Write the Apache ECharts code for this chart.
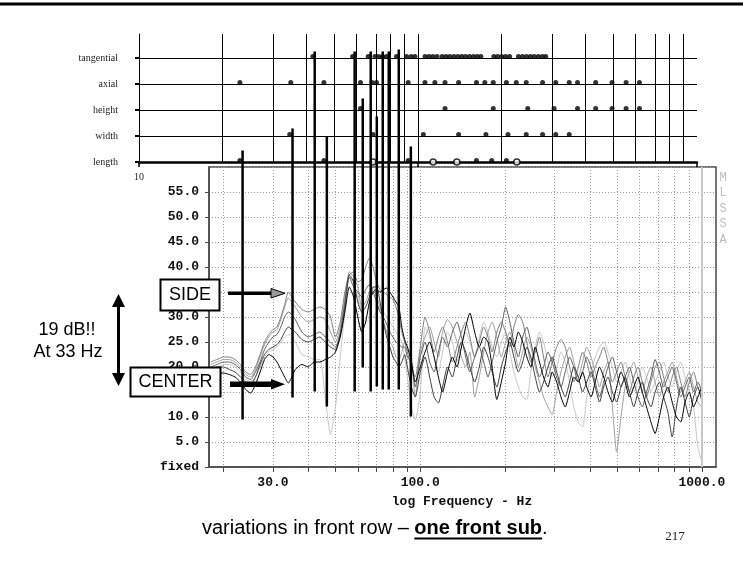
<!DOCTYPE html>
<html>
<head>
<meta charset="utf-8">
<script src="https://cdn.jsdelivr.net/npm/echarts/dist/echarts.min.js"></script>
<style>
  html, body { margin: 0; padding: 0; background: #fff; }
  #chart { width: 743px; height: 564px; }
</style>
</head>
<body>
<div id="chart"></div>
<script>
// frequency points (Hz) shared by all measured curves
const freqs = [18, 19, 20, 21, 22, 23, 24, 25, 26, 27, 28, 29, 30, 31, 32, 33, 34, 35, 36,
  38, 40, 42, 44, 46, 48, 50, 52, 54, 56, 58, 60, 62, 64, 66, 68, 70, 72, 74, 76, 78, 80, 82, 84, 86, 88, 90,
  93, 96, 100,
  104, 108, 112, 116, 120, 125, 130, 135, 140, 145, 150, 156, 162, 168, 174, 180, 187, 194, 201, 208, 215,
  223, 231, 239, 247, 256, 265, 274, 284, 294, 305, 316, 327, 339, 351, 364, 377, 390, 404, 418, 433, 448,
  464, 481, 498, 516, 534, 553, 573, 593, 614, 636, 659, 682, 706, 731, 757, 784, 812, 841, 871, 902, 934, 967, 1000]

// dB values, one array per seat position
const seatA = [21, 21.5, 22, 22, 21.5, 20.5, 19, 18.5, 20, 22.5, 25, 26.5, 27.5, 28, 30, 32.5, 35, 34, 33,
  31.5, 31, 31.5, 32, 31.5, 30, 26, 29, 35, 38.5, 39, 37, 37.5, 40, 41.8, 40, 37, 35.5, 35, 34.5, 34, 33.5, 32, 30, 27, 25, 23,
  20, 18, 24,
  30, 27, 23, 26, 28, 25, 21, 24, 27, 29, 26, 22, 25, 28, 26, 23, 27, 29, 27, 24, 28, 30.5, 29, 25, 21, 23, 26, 22, 18, 21,
  24, 25.5, 24, 20, 17, 20, 23, 21, 18, 20, 22, 24, 21, 17, 19, 21, 18, 15, 18, 20, 17, 14, 17, 20, 21, 18, 15, 18, 20, 17,
  14, 17, 19, 16, 14]
const seatB = [20.5, 21, 21.5, 21.5, 21, 20, 18.5, 18, 19.5, 22, 24.5, 26, 27, 27.5, 29.5, 32, 33.8, 33, 32,
  30, 29, 29.5, 30, 29.5, 27, 25, 28, 34, 39, 38, 36, 32, 33, 35, 36, 34, 32, 29, 27, 25, 24, 22, 21.5, 23, 25, 24,
  22, 14, 23,
  26, 28, 25, 22, 27, 29.5, 28, 25, 22, 20, 23, 14, 18, 23, 27, 29, 26, 22, 25, 27, 24, 20, 23, 26, 24, 20, 17, 14, 12, 10.5,
  15, 19, 22, 24, 21, 18, 21, 24, 22, 19, 16, 19, 21, 12, 3, 10, 16, 19, 21, 18, 15, 18, 20, 17, 14, 17, 19, 21, 18, 15,
  17, 19, 16, 13, 12]
const seatC = [20, 20.5, 21, 21, 20.5, 19.5, 18, 17.5, 19, 21, 23.5, 25, 26, 26.5, 28, 30, 31, 30.5, 29.5,
  27, 26, 26.5, 27, 26, 25, 24, 27, 33, 38, 36, 35, 34, 35.5, 36.5, 35, 33, 31, 30, 28.5, 27, 26, 25, 24.5, 24, 24, 22,
  21, 16, 22,
  25, 21, 19, 23, 26, 24, 27, 29, 26, 22, 19, 22, 24, 21, 18, 21, 25, 28, 32, 29, 25, 22, 26, 28, 25, 21, 18, 20, 23, 21,
  18, 16, 19, 22, 20, 17, 19, 22, 20, 17, 14, 17, 20, 22, 19, 16, 18, 20, 17, 14, 12, 15, 18, 21.5, 19, 16, 18, 20, 17, 14,
  16, 18, 15, 17, 15]
const seatD = [19.5, 20, 20.5, 20.5, 20, 19, 17.5, 17, 18, 20, 22, 23, 23.5, 24, 25, 26, 26.5, 26, 25,
  22.5, 22, 21.5, 21.5, 14, 6.5, 12, 22, 31, 38, 37, 34, 31, 29, 29.5, 30, 31, 32, 31, 30, 29, 28, 27, 26, 25, 22, 18,
  12, 9.5, 15,
  28, 26, 22, 19, 23, 27, 25, 21, 24, 27, 25, 22, 26, 29, 27, 24, 22, 25, 27, 23, 19, 16, 14, 13.5, 19, 24, 27, 25, 21, 18,
  20, 23, 21, 17, 12, 9, 8, 14, 19, 22, 24, 25, 23, 20, 17, 19, 21, 18, 15, 17, 20, 18, 15, 17, 19, 21, 18, 16, 19, 21,
  18, 15, 12, 4, 1]
const seatE = [19.5, 20, 20, 19.5, 19, 18, 17, 16.5, 18, 20.5, 22.5, 23.5, 24, 24.5, 25.5, 27, 28, 27.5, 27,
  25.5, 25, 25.5, 26, 25, 24, 23.5, 26.5, 32, 38.5, 37, 33, 31, 32, 34, 36, 36, 33, 29, 26, 24, 22, 21, 20, 21, 22.5, 20,
  16, 14, 19,
  22, 18, 14, 12.8, 16, 20, 18, 22, 25, 23, 20, 17, 20, 24, 22, 19, 16, 20, 23, 25, 22, 19, 21, 24, 22, 18, 15, 17, 20, 22,
  19, 16, 14, 17, 20, 18, 15, 17, 19, 16, 13, 16, 18, 15, 13, 16, 18, 15, 12, 15, 17, 14, 12, 15, 17, 14, 11, 6, 12, 16,
  13, 10, 14, 16, 13]
const seatCenter = [18.5, 18.7, 18.8, 18.5, 18, 17, 15.5, 14.8, 16.5, 19, 21.5, 22.5, 22, 21, 19.5, 18, 16.8, 18, 19.5,
  20.5, 20, 21, 21, 21.5, 22, 23, 26, 31, 36, 34, 30, 27, 29, 33, 35, 35.5, 35, 35.5, 35.8, 35, 34, 33, 32, 28, 25.5, 24,
  21, 17, 20,
  23, 25, 22, 18, 15, 19, 22, 20, 24, 28, 30.8, 27, 24, 26, 25, 20, 13.5, 17, 21, 26, 24, 27, 25, 22, 20, 24, 21, 18, 16, 19,
  17, 14, 12, 15, 18, 17, 19, 16, 14, 17, 20, 18, 15, 13, 16, 19, 17, 14, 16, 18, 15, 12, 9, 6.7, 10, 14, 16, 13, 10, 9,
  13, 15, 12, 14, 16]

const seatColors = ['#c8c8c8', '#a0a0a0', '#808080', '#606060', '#404040', '#000000']
const seatData = [seatD, seatB, seatA, seatC, seatE, seatCenter]

// room modes (Hz) per row of the mode chart
const modeRows = ['length', 'width', 'height', 'axial', 'tangential']
const tangentialModes = [42, 58.3, 66.3, 70.1, 72.2, 74.6, 77.1, 83.7, 91, 94.5, 97.5, 106, 109.5, 113, 117,
  122, 126, 130, 134.5, 139, 143.5, 148, 153, 158, 163, 168, 187, 193, 199.5, 206, 213,
  229, 237, 245, 253, 261, 270, 279, 287]
const axialModes = [23, 35, 46, 62.2, 68.5, 71, 92.2, 105.9, 114.9, 125, 139.8, 162, 173.6, 186.1, 207.4, 225,
  244.3, 279.6, 311.7, 348.3, 373, 433.3, 496, 557, 622]
const heightModes = [62.2, 125, 186.1, 247.4, 307.4, 373, 433.3, 496, 557, 622]
const widthModes = [34.7, 69, 104.5, 139.8, 175.2, 210.2, 244.3, 279.6, 311.7, 348.3]
const lengthModes = [23, 46, 92.2, 162, 183.7, 207.4]
const lengthOpen = [69, 113.3, 137.8, 226]

// mode lines dropped into the response plot: frequency, top and bottom level (dB scale)
const stemFreqs = [23.4, 35.2, 42.2, 46.6, 58.5, 62.5, 66.7, 70.1, 73.6, 77.3, 83.9, 92.6]
const stemTops = [63.3, 67.7, 83.1, 66.1, 83.1, 73.7, 83.1, 70.1, 83.1, 83.1, 83.5, 64.1]
const stemEnds = [9.5, 13.9, 15.1, 12.1, 15.1, 19.9, 15.1, 16.1, 15.5, 15.5, 15.5, 10.1]

const gridFreqs = [20, 30, 40, 50, 60, 70, 80, 90, 100, 200, 300, 400, 500, 600, 700, 800, 900, 1000]
const xLabelFreqs = [30, 100, 1000]

const lg = Math.log10
const mono = '"Liberation Mono", "DejaVu Sans Mono", monospace'
const sans = '"Liberation Sans", Arial, sans-serif'
const serif = '"Liberation Serif", "Times New Roman", serif'

const chart = echarts.init(document.getElementById('chart'))

const series = []

// mode chart dots
const rowSets = [lengthModes, widthModes, heightModes, axialModes, tangentialModes]
const dotData = []
rowSets.forEach((arr, row) => {
  arr.forEach(f => dotData.push([lg(f), row]))
})
series.push({
  type: 'scatter',
  xAxisIndex: 0,
  yAxisIndex: 0,
  symbolSize: 5,
  symbolOffset: [0, -1.5],
  itemStyle: { color: '#000' },
  data: dotData,
  silent: true,
  markLine: {
    silent: true,
    symbol: ['none', 'none'],
    label: { show: false },
    lineStyle: { color: '#000', width: 1, type: 'solid' },
    data: [1, 2, 3, 4].map(v => ({ yAxis: v }))
      .concat(gridFreqs.slice(0, -1).map(f => ({ xAxis: lg(f) })))
  }
})
series.push({
  type: 'scatter',
  xAxisIndex: 0,
  yAxisIndex: 0,
  symbolSize: 6,
  itemStyle: { color: '#fff', borderColor: '#000', borderWidth: 1.5 },
  data: lengthOpen.map(f => [lg(f), 0]),
  silent: true
})

// measured curves
seatData.forEach((vals, i) => {
  const s = {
    type: 'line',
    xAxisIndex: 1,
    yAxisIndex: 1,
    data: freqs.map((f, k) => [lg(f), vals[k]]),
    showSymbol: false,
    symbol: 'none',
    smooth: 0.2,
    lineStyle: { color: seatColors[i], width: 1 },
    silent: true
  }
  if (i === 0) {
    s.markLine = {
      silent: true,
      symbol: ['none', 'none'],
      label: { show: false },
      lineStyle: { color: '#c8c8c8', width: 2, type: 'solid' },
      data: [{ xAxis: 3 }]
    }
  }
  series.push(s)
})

// stems from the mode chart
stemFreqs.forEach((f, i) => {
  series.push({
    type: 'line',
    xAxisIndex: 1,
    yAxisIndex: 1,
    clip: false,
    showSymbol: false,
    symbol: 'none',
    lineStyle: { color: '#000', width: 2.5 },
    data: [[lg(f), stemTops[i]], [lg(f), stemEnds[i]]],
    silent: true,
    z: 5
  })
})

// caption underline width
const ctx = document.createElement('canvas').getContext('2d')
ctx.font = '20px "Liberation Sans"'
const capNormal = 'variations in front row – '
const wNormal = ctx.measureText(capNormal).width
ctx.font = 'bold 20px "Liberation Sans"'
const wBold = ctx.measureText('one front sub').width
const capX = 202

chart.setOption({
  animation: false,
  backgroundColor: '#fff',
  grid: [
    { left: 139, right: 46, top: 34, bottom: 402 },
    { left: 209, right: 27, top: 167, bottom: 97, show: true, borderColor: '#4a4a4a', borderWidth: 1.5, backgroundColor: 'transparent' }
  ],
  xAxis: [
    {
      type: 'value', gridIndex: 0, min: 1, max: 3,
      axisLine: { show: true, lineStyle: { color: '#000', width: 2.5 } },
      axisTick: { show: true, customValues: [1, 2, 3], length: 5, lineStyle: { color: '#000', width: 1.5 } },
      axisLabel: { customValues: [1], formatter: () => '10', fontFamily: serif, fontSize: 10, color: '#222', margin: 10 },
      splitLine: { show: false }
    },
    {
      type: 'value', gridIndex: 1, min: 1.25, max: 3.05,
      axisLine: { show: true, lineStyle: { color: '#4a4a4a', width: 1.5 } },
      axisTick: { show: true, customValues: gridFreqs.map(lg), length: 5, lineStyle: { color: '#4a4a4a', width: 1 } },
      axisLabel: {
        customValues: xLabelFreqs.map(lg),
        formatter: v => Math.pow(10, v).toFixed(1),
        fontFamily: mono, fontWeight: 'bold', fontSize: 13, color: '#111', margin: 9
      },
      splitLine: { show: true, lineStyle: { color: '#999', width: 1, type: [1, 2] } }
    }
  ],
  yAxis: [
    {
      type: 'value', gridIndex: 0, min: 0, max: (162 - 34) / 26,
      axisLine: { show: true, lineStyle: { color: '#000', width: 1 } },
      axisTick: { show: true, customValues: [0, 1, 2, 3, 4], length: 4, lineStyle: { color: '#000', width: 2 } },
      axisLabel: {
        customValues: [0, 1, 2, 3, 4],
        formatter: v => modeRows[Math.round(v)],
        fontFamily: serif, fontSize: 10, color: '#222', margin: 21
      },
      splitLine: { show: false }
    },
    {
      type: 'value', gridIndex: 1, min: 0, max: 60, interval: 5,
      axisLine: { show: true, lineStyle: { color: '#4a4a4a', width: 1.5 } },
      axisTick: { show: true, length: 4, lineStyle: { color: '#4a4a4a' } },
      axisLabel: {
        showMaxLabel: false,
        formatter: v => (v === 0 ? 'fixed' : v.toFixed(1)),
        fontFamily: mono, fontWeight: 'bold', fontSize: 13, color: '#111', margin: 10
      },
      splitLine: { show: true, lineStyle: { color: '#999', width: 1, type: [1, 2] } }
    }
  ],
  series: series,
  graphic: [
    // slide frame
    { type: 'line', shape: { x1: 0, y1: 4, x2: 743, y2: 4 }, style: { stroke: '#000', lineWidth: 3 } },
    // x axis title
    { type: 'text', x: 462, y: 502, style: { text: 'log Frequency - Hz', font: 'bold 13px ' + mono, fill: '#111', align: 'center', verticalAlign: 'middle' } },
    // MLSSA watermark
    { type: 'text', x: 723, y: 170, style: { text: 'M\nL\nS\nS\nA', font: '12px ' + mono, lineHeight: 15.5, fill: '#bdbdbd', align: 'center', verticalAlign: 'top' } },
    // SIDE label
    { type: 'rect', shape: { x: 160.5, y: 279.5, width: 59, height: 31 }, style: { fill: '#fff', stroke: '#000', lineWidth: 2 }, z: 10 },
    { type: 'text', x: 190, y: 295.5, style: { text: 'SIDE', font: '18px ' + sans, fill: '#000', align: 'center', verticalAlign: 'middle' }, z: 11 },
    { type: 'rect', shape: { x: 228, y: 291.5, width: 44, height: 3.6 }, style: { fill: '#000' }, z: 10 },
    { type: 'polygon', shape: { points: [[271, 288.5], [285, 293.3], [271, 298]] }, style: { fill: '#9a9a9a', stroke: '#000', lineWidth: 1 }, z: 10 },
    // CENTER label
    { type: 'rect', shape: { x: 130.5, y: 367.5, width: 90, height: 29 }, style: { fill: '#fff', stroke: '#000', lineWidth: 2 }, z: 10 },
    { type: 'text', x: 175.5, y: 382.5, style: { text: 'CENTER', font: '18px ' + sans, fill: '#000', align: 'center', verticalAlign: 'middle' }, z: 11 },
    { type: 'rect', shape: { x: 230, y: 381.5, width: 42, height: 5.5 }, style: { fill: '#000' }, z: 10 },
    { type: 'polygon', shape: { points: [[271, 379], [285, 384.2], [271, 389.5]] }, style: { fill: '#000' }, z: 10 },
    // 19 dB arrow and text
    { type: 'line', shape: { x1: 118.5, y1: 305, x2: 118.5, y2: 375 }, style: { stroke: '#000', lineWidth: 3 } },
    { type: 'polygon', shape: { points: [[112, 307], [118.5, 294], [125, 307]] }, style: { fill: '#000' } },
    { type: 'polygon', shape: { points: [[112, 373], [118.5, 386], [125, 373]] }, style: { fill: '#000' } },
    { type: 'text', x: 67, y: 330, style: { text: '19 dB!!', font: '18px ' + sans, fill: '#000', align: 'center', verticalAlign: 'middle' } },
    { type: 'text', x: 68, y: 352, style: { text: 'At 33 Hz', font: '18px ' + sans, fill: '#000', align: 'center', verticalAlign: 'middle' } },
    // caption
    {
      type: 'text', x: capX, y: 528,
      style: {
        text: '{n|' + capNormal + '}{b|one front sub}{n|.}',
        verticalAlign: 'middle',
        rich: {
          n: { fontSize: 20, fontFamily: sans, fill: '#000' },
          b: { fontSize: 20, fontFamily: sans, fontWeight: 'bold', fill: '#000' }
        }
      }
    },
    { type: 'line', shape: { x1: capX + wNormal, y1: 538.5, x2: capX + wNormal + wBold, y2: 538.5 }, style: { stroke: '#000', lineWidth: 2 } },
    { type: 'text', x: 675, y: 537, style: { text: '217', font: '13px ' + serif, fill: '#222', align: 'center', verticalAlign: 'middle' } }
  ]
})
</script>
</body>
</html>
